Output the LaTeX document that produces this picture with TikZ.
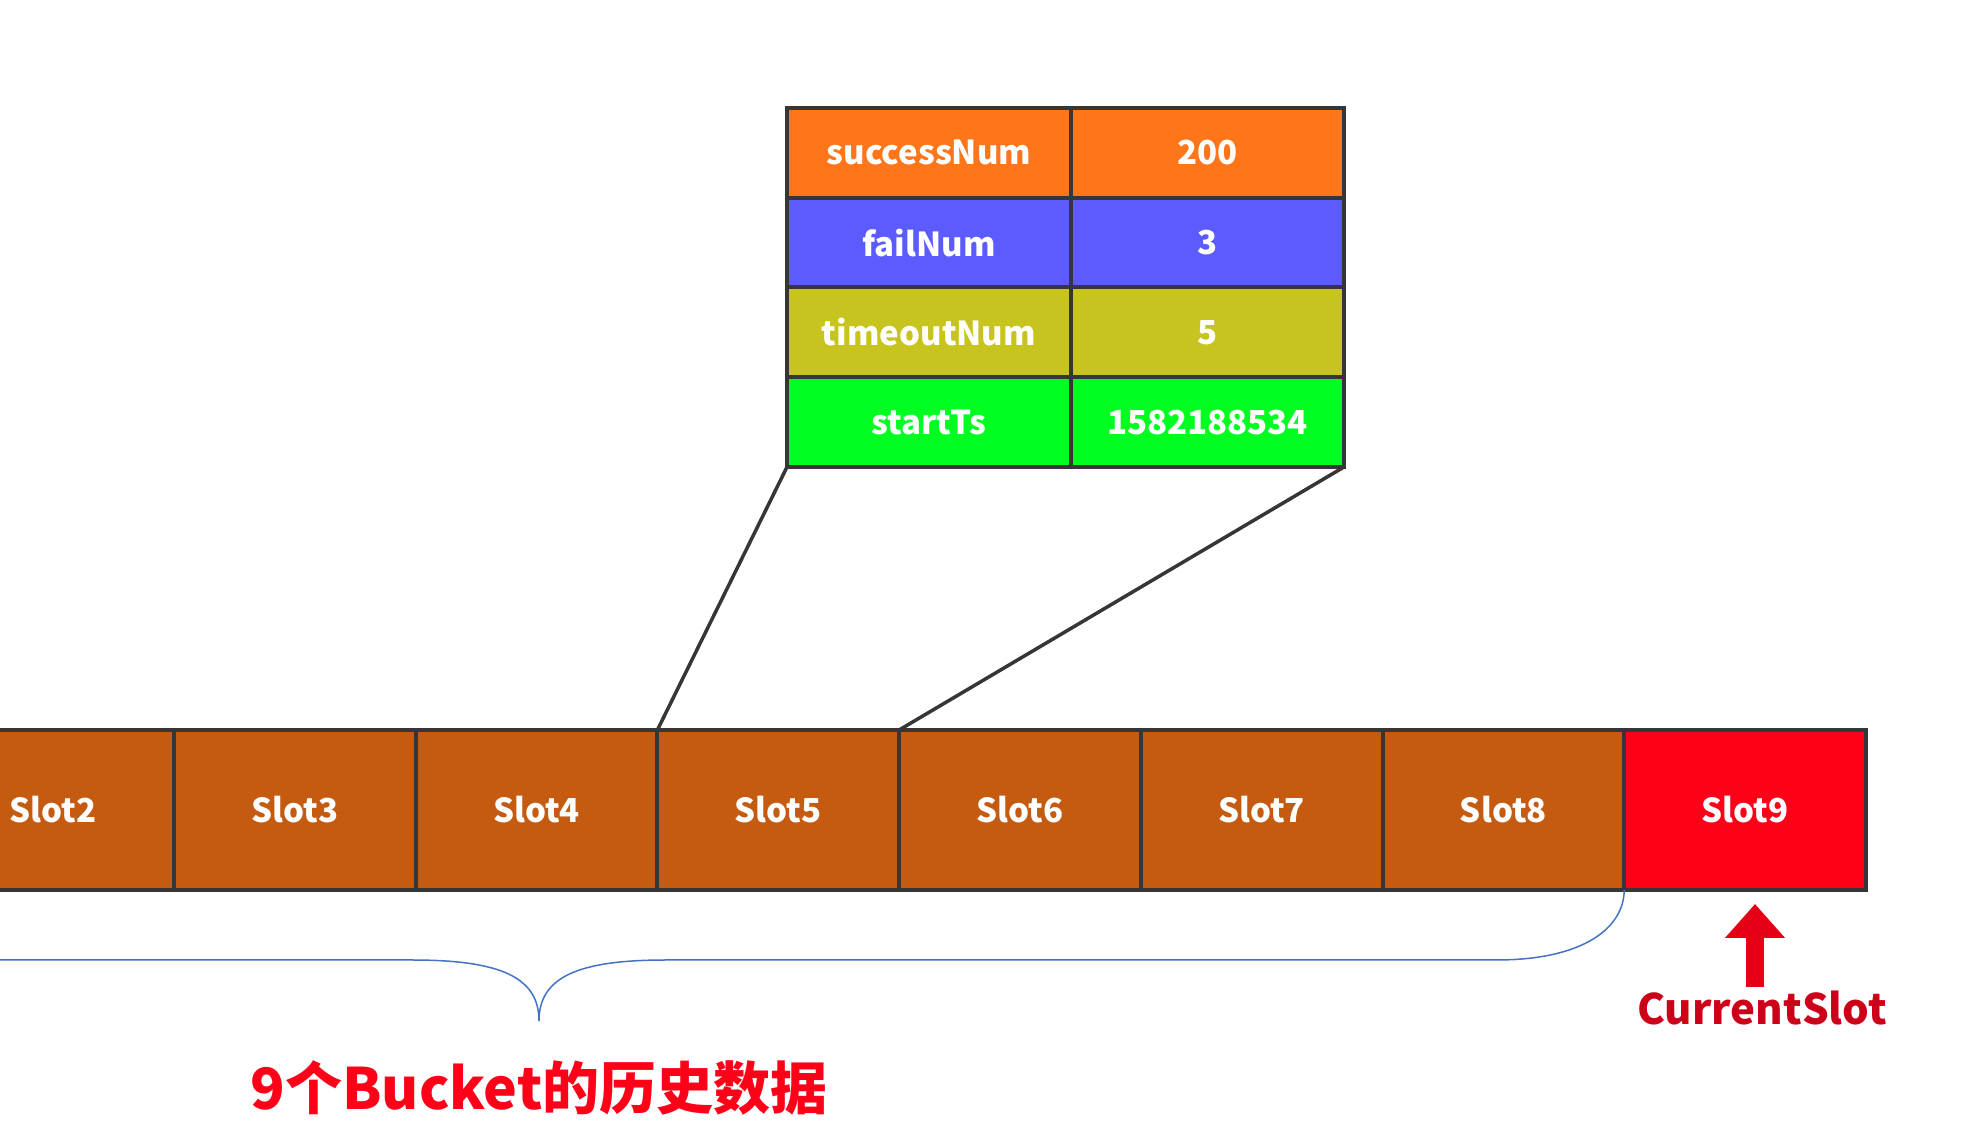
\documentclass[tikz,border=0pt]{standalone}
\usepackage{fontspec}
\setmainfont{Noto Sans CJK SC}
\usetikzlibrary{positioning,arrows.meta}

\definecolor{edgegray}{HTML}{363636}
\definecolor{slotbrown}{HTML}{C55A11}
\definecolor{slotred}{HTML}{FF0019}
\definecolor{succorange}{HTML}{FF7519}
\definecolor{failblue}{HTML}{5B5BFF}
\definecolor{timeolive}{HTML}{C8C41F}
\definecolor{startgreen}{HTML}{00FF21}
\definecolor{braceblue}{HTML}{4472C4}
\definecolor{curred}{HTML}{CC0019}

\tikzset{
  slot/.style={draw=edgegray, line width=4pt, fill=slotbrown, text=white,
    font=\fontsize{33}{40}\selectfont\bfseries,
    minimum width=241.7pt, minimum height=160pt, inner sep=0pt, outer sep=0pt},
  keycell/.style={draw=edgegray, line width=4pt, text=white,
    font=\fontsize{33}{40}\selectfont\bfseries,
    minimum width=284pt, minimum height=89.75pt, inner sep=0pt, outer sep=0pt},
  valcell/.style={keycell, minimum width=273pt},
  link/.style={draw=edgegray, line width=3.5pt},
  brace/.style={draw=braceblue, line width=1.5pt},
  uparrow/.style={draw=slotred!90!black, line width=18pt,
    -{Triangle[width=58pt,length=34pt]}},
}

\begin{document}
\begin{tikzpicture}[x=1pt,y=1pt]
  \useasboundingbox (0,0) rectangle (1988,1142);

  % bucket fields
  \node[keycell, fill=succorange, anchor=north west] (k1) at (787,1034) {successNum};
  \node[valcell, fill=succorange, right=0pt of k1] (v1) {200};
  \node[keycell, fill=failblue, below=0pt of k1] (k2) {failNum};
  \node[valcell, fill=failblue, right=0pt of k2] (v2) {3};
  \node[keycell, fill=timeolive, below=0pt of k2] (k3) {timeoutNum};
  \node[valcell, fill=timeolive, right=0pt of k3] (v3) {5};
  \node[keycell, fill=startgreen, below=0pt of k3] (k4) {startTs};
  \node[valcell, fill=startgreen, right=0pt of k4] (v4) {1582188534};

  % slots
  \node[slot, anchor=north west] (s2) at (-67.7,412) {Slot2};
  \node[slot, right=0pt of s2] (s3) {Slot3};
  \node[slot, right=0pt of s3] (s4) {Slot4};
  \node[slot, right=0pt of s4] (s5) {Slot5};
  \node[slot, right=0pt of s5] (s6) {Slot6};
  \node[slot, right=0pt of s6] (s7) {Slot7};
  \node[slot, right=0pt of s7] (s8) {Slot8};
  \node[slot, fill=slotred, right=0pt of s8] (s9) {Slot9};

  \draw[link] (k4.south west) -- (s4.north east);
  \draw[link] (v4.south east) -- (s5.north east);

  % brace under the history
  \coordinate (bracestart) at (-20,182);
  \coordinate (bracetip) at (539,121);
  \draw[brace] (bracestart) -- (412,182)
    .. controls (500,182) and (539,165) .. (bracetip)
    .. controls (539,165) and (578,182) .. (666,182) -- (1496,182)
    .. controls (1585,182) and (1624,215) .. (s8.south east);
  \node[text=slotred, font=\fontsize{57}{62}\selectfont\bfseries] (hist) at (539,54) {9个Bucket的历史数据};

  % current slot pointer
  \node[text=curred, font=\fontsize{42}{48}\selectfont\bfseries, inner sep=0pt] (cur) at (1762,134) {CurrentSlot};
  \coordinate (curbase) at (1755,155);
  \coordinate (curtip) at (1755,238);
  \draw[uparrow] (curbase) -- (curtip);
\end{tikzpicture}
\end{document}
